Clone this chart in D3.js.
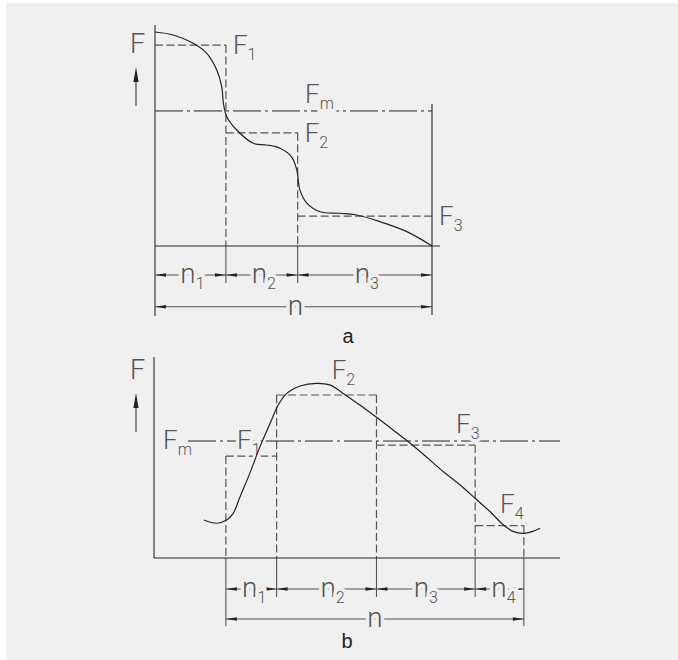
<!DOCTYPE html>
<html>
<head>
<meta charset="utf-8">
<script src="https://cdn.jsdelivr.net/npm/d3@7"></script>
<style>
  body { margin: 0; background: #ffffff; }
  svg { display: block; }
</style>
</head>
<body>
<div id="chart"></div>
<script>
// ---- chart a: load drops in three steps ----
var aBreaks = [0, 25.6, 51.5, 100];          // n positions of the step edges
var aSteps = [93.9, 52.9, 14.0];              // F1, F2, F3
var aMean = 63.1;                             // Fm
var aStepNames = ["1", "2", "3"];
var aDimNames = ["1", "2", "3"];
var aCurve = [[0, 100], [6.6, 98.6], [13.8, 94.7], [18.7, 90.0], [22.3, 82.2], [24.1, 74.4],
  [24.7, 66.7], [25.9, 60.4], [29.5, 54.2], [35.5, 48.0], [40.3, 47.2], [45.1, 45.7],
  [49.3, 41.7], [51.2, 35.5], [52.3, 26.2], [54.8, 20.0], [59.6, 16.0], [66.8, 15.3],
  [72.8, 14.5], [81.2, 11.4], [90.9, 6.7], [100, 0]];

// ---- chart b: load rises and falls, four steps ----
var bBreaks = [17.7, 30.2, 54.8, 79.1, 91.1];
var bSteps = [50.7, 81.1, 56.2, 16.1];        // F1..F4
var bMean = 58.2;
var bStepNames = ["1", "2", "3", "4"];
var bDimNames = ["1", "2", "3", "4"];
var bCurve = [[12.3, 18.9], [15.4, 17.3], [17.9, 18.9], [19.5, 22.2], [21.2, 30.5], [23.6, 42.1],
  [26.1, 55.4], [28.6, 67.0], [30.6, 76.1], [32.7, 81.9], [36.0, 85.6], [40.1, 86.9],
  [43.3, 86.1], [46.6, 81.9], [50.7, 76.1], [54.8, 70.0], [58.9, 63.7], [63.1, 57.1],
  [67.2, 50.1], [71.3, 42.9], [75.4, 36.3], [79.1, 29.7], [82.8, 23.0], [86.1, 16.4],
  [88.6, 13.1], [91.0, 12.3], [93.1, 13.1], [95.1, 14.8]];

var W = 678, H = 660;
var bg = "#f0f0f0";
var ink = "#222";
var grey = "#555";
var lineFont = "Roboto, 'Liberation Sans', sans-serif";

var svg = d3.select("#chart").append("svg").attr("width", W).attr("height", H);
svg.append("rect").attr("x", 6).attr("y", 3).attr("width", W - 6).attr("height", H - 3).attr("fill", bg);

var xa = d3.scaleLinear().domain([0, 100]).range([155, 432]);
var ya = d3.scaleLinear().domain([0, 100]).range([246, 32]);
var xb = d3.scaleLinear().domain([0, 100]).range([154, 560]);
var yb = d3.scaleLinear().domain([0, 100]).range([558, 357]);

var gLines = svg.append("g");
var gText = svg.append("g");
var gCurve = svg.append("g");

function seg(x1, y1, x2, y2, color, w, dash) {
  var l = gLines.append("line")
    .attr("x1", x1).attr("y1", y1).attr("x2", x2).attr("y2", y2)
    .attr("stroke", color).attr("stroke-width", w);
  if (dash) l.attr("stroke-dasharray", dash);
  return l;
}

// label with a subscript, knocked out of the lines behind it
function label(x, y, main, sub, size, anchor) {
  var t = gText.append("text")
    .attr("x", x).attr("y", y)
    .attr("text-anchor", anchor || "start")
    .style("font-family", lineFont)
    .style("font-weight", 300)
    .style("font-size", size + "px")
    .attr("fill", grey)
    .attr("stroke", bg).attr("stroke-width", 7)
    .attr("paint-order", "stroke");
  t.append("tspan").text(main);
  if (sub) t.append("tspan").attr("dy", 6).style("font-size", "16px").text(sub);
  return t;
}

function arrowHead(xTip, y, dir) {
  // dir = +1 points right, -1 points left
  var len = 11, hw = 1.8;
  gLines.append("path")
    .attr("d", "M" + xTip + "," + y + "L" + (xTip - dir * len) + "," + (y - hw) +
      "L" + (xTip - dir * len) + "," + (y + hw) + "Z")
    .attr("fill", ink);
}

function dimension(x1, x2, y, main, sub, size, dx) {
  seg(x1, y, x2, y, grey, 1.1);
  arrowHead(x1, y, -1);
  arrowHead(x2, y, 1);
  label((x1 + x2) / 2 + (dx || 0), y + 8, main, sub, size, "middle");
}

function forceArrow(x, yTop, yBottom, yLabel) {
  gText.append("text").attr("x", x - 6).attr("y", yLabel)
    .style("font-family", lineFont).style("font-weight", 300).style("font-size", "27px")
    .attr("fill", grey).text("F");
  seg(x, yTop + 12, x, yBottom, grey, 1.3);
  gLines.append("path")
    .attr("d", "M" + x + "," + yTop + "L" + (x - 2.6) + "," + (yTop + 15) + "L" + (x + 2.6) + "," + (yTop + 15) + "Z")
    .attr("fill", ink);
}

var dashed = "8,3.5";
var dashDot = "28,4,3,4";

// ================= chart a =================
// step boxes
aSteps.forEach(function (v, i) {
  seg(xa(aBreaks[i]), ya(v), xa(aBreaks[i + 1]), ya(v), grey, 1.2, dashed);
});
aBreaks.forEach(function (b, k) {
  if (k === 0 || k === aBreaks.length - 1) return;
  var top = Math.max(aSteps[k - 1], aSteps[k]);
  seg(xa(b), ya(top), xa(b), ya(0), grey, 1.2, dashed);
  seg(xa(b), ya(0), xa(b), 283, grey, 1.1);
});
// mean line
seg(xa(0), ya(aMean), xa(100), ya(aMean), ink, 1, dashDot);
// frame
seg(xa(0), 25, xa(0), 316, grey, 1.4);
seg(xa(0), ya(0), xa(100) + 8, ya(0), ink, 1.1);
seg(xa(100), ya(aMean) - 7, xa(100), 315, ink, 1.1);
// labels
aSteps.forEach(function (v, i) {
  label(xa(aBreaks[i + 1]) + 7, ya(v) + 9, "F", aStepNames[i], 26);
});
label(305, ya(aMean) - 8, "F", "m", 26);
forceArrow(136, 67, 106, 53);
// dimensions
for (var i = 0; i < aSteps.length; i++) {
  dimension(xa(aBreaks[i]), xa(aBreaks[i + 1]), 275, "n", aDimNames[i], 28, 2);
}
dimension(xa(0), xa(100), 306.7, "n", null, 28, 2);
gText.append("text").attr("x", 348).attr("y", 343).attr("text-anchor", "middle")
  .style("font-family", "'Liberation Sans', Arial, sans-serif").style("font-size", "20px")
  .attr("fill", ink).text("a");

// curve a
gCurve.append("path")
  .datum(aCurve)
  .attr("d", d3.line().x(function (d) { return xa(d[0]); }).y(function (d) { return ya(d[1]); })
    .curve(d3.curveCatmullRom.alpha(0.5)))
  .attr("fill", "none").attr("stroke", ink).attr("stroke-width", 1.2);

// ================= chart b =================
bSteps.forEach(function (v, i) {
  seg(xb(bBreaks[i]), yb(v), xb(bBreaks[i + 1]), yb(v), grey, 1.2, dashed);
});
bBreaks.forEach(function (b, k) {
  var adj = [];
  if (k > 0) adj.push(bSteps[k - 1]);
  if (k < bSteps.length) adj.push(bSteps[k]);
  var top = d3.max(adj);
  seg(xb(b), yb(top), xb(b), yb(0), grey, 1.2, dashed);
  var outer = (k === 0 || k === bBreaks.length - 1);
  seg(xb(b), yb(0), xb(b), outer ? 626 : 597, grey, 1.1);
});
seg(188, yb(bMean), xb(100), yb(bMean), ink, 1, dashDot);
seg(xb(0), 357, xb(0), yb(0), grey, 1.4);
seg(xb(0), yb(0), xb(100), yb(0), ink, 1.1);

var bLabelPos = [[237, 449], [331.7, 379], [456, 433], [500, 513]];
bSteps.forEach(function (v, i) {
  label(bLabelPos[i][0], bLabelPos[i][1], "F", bStepNames[i], 26);
});
label(163, yb(bMean) + 8, "F", "m", 26);
forceArrow(136, 393, 432, 379);

var bDimShift = [3, 6, 0, 4];
for (var j = 0; j < bSteps.length; j++) {
  dimension(xb(bBreaks[j]), xb(bBreaks[j + 1]), 589, "n", bDimNames[j], 28, bDimShift[j]);
}
dimension(xb(bBreaks[0]), xb(bBreaks[bBreaks.length - 1]), 619, "n", null, 28, 0);
gText.append("text").attr("x", 347).attr("y", 648).attr("text-anchor", "middle")
  .style("font-family", "'Liberation Sans', Arial, sans-serif").style("font-size", "20px")
  .attr("fill", ink).text("b");

gCurve.append("path")
  .datum(bCurve)
  .attr("d", d3.line().x(function (d) { return xb(d[0]); }).y(function (d) { return yb(d[1]); })
    .curve(d3.curveCatmullRom.alpha(0.5)))
  .attr("fill", "none").attr("stroke", ink).attr("stroke-width", 1.2);
</script>
</body>
</html>
